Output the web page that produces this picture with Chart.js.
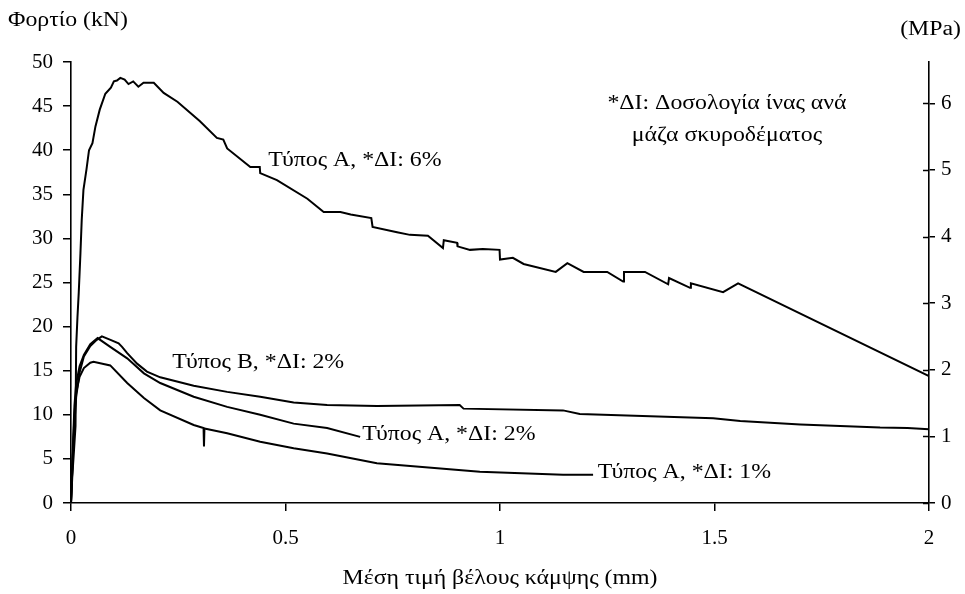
<!DOCTYPE html>
<html>
<head>
<meta charset="utf-8">
<script src="https://cdn.jsdelivr.net/npm/chart.js@4"></script>
<style>
  body { margin: 0; background: #fff; }
  #chart { display: block; }
</style>
</head>
<body>
<canvas id="chart" width="965" height="594"></canvas>
<script>
// curve data: deflection (mm) / load (kN)
var typeA6X = [0, 0.003, 0.007, 0.0105, 0.012, 0.015, 0.018, 0.022, 0.025, 0.029, 0.036, 0.042, 0.05, 0.057, 0.067, 0.08, 0.093, 0.1, 0.107, 0.115, 0.125, 0.134, 0.145, 0.157, 0.169, 0.193, 0.216, 0.248, 0.30, 0.34, 0.355, 0.364, 0.418, 0.44, 0.441, 0.48, 0.551, 0.589, 0.628, 0.652, 0.70, 0.703, 0.76, 0.79, 0.832, 0.867, 0.869, 0.90, 0.901, 0.93, 0.96, 0.999, 1.0, 1.03, 1.055, 1.13, 1.157, 1.195, 1.25, 1.287, 1.289, 1.338, 1.392, 1.394, 1.443, 1.445, 1.52, 1.555, 2.0];
var typeA6Y = [0, 3, 6, 8.7, 17.7, 21, 23.8, 28.3, 32.1, 35.5, 37.8, 40, 40.8, 42.7, 44.6, 46.4, 47.1, 47.8, 47.9, 48.2, 48.0, 47.5, 47.8, 47.2, 47.65, 47.65, 46.5, 45.5, 43.3, 41.4, 41.2, 40.2, 38.1, 38.1, 37.4, 36.6, 34.5, 33.0, 33.0, 32.7, 32.3, 31.3, 30.7, 30.4, 30.3, 28.9, 29.8, 29.5, 29.1, 28.7, 28.8, 28.7, 27.6, 27.8, 27.1, 26.2, 27.2, 26.2, 26.2, 25.1, 26.2, 26.2, 24.8, 25.5, 24.4, 24.9, 23.9, 24.9, 14.4];

var typeB2X = [0, 0.004, 0.008, 0.012, 0.02, 0.03, 0.045, 0.06, 0.072, 0.092, 0.111, 0.119, 0.131, 0.154, 0.177, 0.208, 0.286, 0.364, 0.441, 0.519, 0.597, 0.713, 0.906, 0.915, 1.147, 1.186, 1.497, 1.56, 1.7, 1.886, 1.95, 2.0];
var typeB2Y = [0, 5, 9, 12, 14.8, 16.6, 17.8, 18.5, 18.9, 18.5, 18.1, 17.7, 17.0, 15.8, 14.9, 14.25, 13.3, 12.6, 12.05, 11.4, 11.1, 11.0, 11.1, 10.7, 10.5, 10.1, 9.6, 9.3, 8.9, 8.55, 8.5, 8.35];

var typeA2X = [0, 0.004, 0.008, 0.012, 0.02, 0.03, 0.045, 0.062, 0.0915, 0.131, 0.17, 0.208, 0.286, 0.364, 0.441, 0.519, 0.597, 0.674];
var typeA2Y = [0, 6, 11, 13.5, 15.5, 16.8, 18.0, 18.7, 17.7, 16.4, 14.7, 13.6, 12.05, 10.9, 10.0, 9.0, 8.5, 7.5];

var typeA1X = [0, 0.004, 0.008, 0.012, 0.02, 0.03, 0.045, 0.0524, 0.0915, 0.131, 0.17, 0.208, 0.286, 0.309, 0.31, 0.311, 0.364, 0.441, 0.519, 0.597, 0.713, 0.953, 1.147, 1.217];
var typeA1Y = [0, 5, 10, 12.5, 14.3, 15.3, 15.9, 16.0, 15.6, 13.6, 11.9, 10.5, 8.85, 8.5, 6.4, 8.45, 7.9, 6.95, 6.2, 5.6, 4.5, 3.55, 3.2, 3.2];

var xTicks = [0, 0.5, 1, 1.5, 2];
var loadTicks = [0, 5, 10, 15, 20, 25, 30, 35, 40, 45, 50];
var stressTicks = [0, 1, 2, 3, 4, 5, 6];
var stressMax = 6.62; // right axis top, matches 50 kN

// curve labels anchored in data units
var curveLabels = [
  { text: 'Τύπος Α, *ΔΙ: 6%', x: 0.46, y: 38.8 },
  { text: 'Τύπος Β, *ΔΙ: 2%', x: 0.236, y: 15.9 },
  { text: 'Τύπος Α, *ΔΙ: 2%', x: 0.679, y: 7.7 },
  { text: 'Τύπος Α, *ΔΙ: 1%', x: 1.228, y: 3.4 }
];
var noteLines = ['*ΔΙ: Δοσολογία ίνας ανά', 'μάζα σκυροδέματος'];

var SERIF = '"Liberation Serif", "Times New Roman", serif';
var TEXT_FONT = '20px ' + SERIF;
var STRETCH = 1.19; // the original lettering is wide

function toPoints(xs, ys) {
  return xs.map(function(x, i) { return { x: x, y: ys[i] }; });
}

function curve(xs, ys) {
  return {
    data: toPoints(xs, ys),
    showLine: true,
    borderColor: '#000',
    borderWidth: 2,
    pointRadius: 0,
    tension: 0,
    fill: false
  };
}

// wide text: align is 'left', 'center' or 'right'
function wideText(ctx, text, x, y, align) {
  var w = ctx.measureText(text).width * STRETCH;
  var left = x;
  if (align === 'center') left = x - w / 2;
  if (align === 'right') left = x - w;
  ctx.save();
  ctx.translate(left, y);
  ctx.scale(STRETCH, 1);
  ctx.textAlign = 'left';
  ctx.fillText(text, 0, 0);
  ctx.restore();
}

var textPlugin = {
  id: 'chartTexts',
  afterDraw: function(chart) {
    var ctx = chart.ctx;
    var xs = chart.scales.x, ys = chart.scales.y, rs = chart.scales.y2;
    ctx.save();

    // right axis ticks cross the axis line
    ctx.strokeStyle = '#000';
    ctx.lineWidth = 1.5;
    stressTicks.forEach(function(v) {
      var py = Math.round(rs.getPixelForValue(v)) + 0.5;
      ctx.beginPath();
      ctx.moveTo(rs.left - 6, py);
      ctx.lineTo(rs.left, py);
      ctx.stroke();
    });

    ctx.fillStyle = '#000';
    ctx.font = TEXT_FONT;
    ctx.textBaseline = 'middle';

    curveLabels.forEach(function(l) {
      wideText(ctx, l.text, xs.getPixelForValue(l.x), ys.getPixelForValue(l.y), 'left');
    });

    wideText(ctx, noteLines[0], xs.getPixelForValue(1.529), ys.getPixelForValue(45.25), 'center');
    wideText(ctx, noteLines[1], xs.getPixelForValue(1.529), ys.getPixelForValue(41.65), 'center');

    // axis titles
    wideText(ctx, 'Φορτίο (kN)', 8, 21, 'left');
    wideText(ctx, '(MPa)', 961, 30, 'right');
    wideText(ctx, 'Μέση τιμή βέλους κάμψης (mm)', (chart.chartArea.left + chart.chartArea.right) / 2, 579, 'center');
    ctx.restore();
  }
};

var tickFont = { family: SERIF, size: 21 };
var axisGrid = { drawOnChartArea: false, drawTicks: true, tickLength: 8, color: '#000', lineWidth: 1.5 };
var axisBorder = { display: true, color: '#000', width: 1.6 };

var ctx = document.getElementById('chart').getContext('2d');
var chart = new Chart(ctx, {
  type: 'scatter',
  data: {
    datasets: [
      curve(typeA6X, typeA6Y),
      curve(typeB2X, typeB2Y),
      curve(typeA2X, typeA2Y),
      curve(typeA1X, typeA1Y)
    ]
  },
  options: {
    responsive: false,
    animation: false,
    layout: { padding: { top: 62, left: 0, right: 0, bottom: 0 } },
    plugins: {
      legend: { display: false },
      tooltip: { enabled: false }
    },
    scales: {
      x: {
        type: 'linear',
        position: 'bottom',
        min: 0, max: 2,
        afterBuildTicks: function(axis) { axis.ticks = xTicks.map(function(v) { return { value: v }; }); },
        afterFit: function(axis) { axis.height = 91; },
        ticks: {
          color: '#000', font: tickFont, padding: 15,
          maxRotation: 0,
          callback: function(v) { return String(v); }
        },
        grid: axisGrid,
        border: axisBorder
      },
      y: {
        type: 'linear',
        position: 'left',
        min: 0, max: 50,
        afterBuildTicks: function(axis) { axis.ticks = loadTicks.map(function(v) { return { value: v }; }); },
        afterFit: function(axis) { axis.width = 71; },
        ticks: { color: '#000', font: tickFont, padding: 10 },
        grid: axisGrid,
        border: axisBorder
      },
      y2: {
        type: 'linear',
        position: 'right',
        min: 0, max: stressMax,
        afterBuildTicks: function(axis) { axis.ticks = stressTicks.map(function(v) { return { value: v }; }); },
        afterFit: function(axis) { axis.width = 36; },
        ticks: { color: '#000', font: tickFont, padding: 6 },
        grid: { drawOnChartArea: false, drawTicks: true, tickLength: 6, color: '#000', lineWidth: 1.5 },
        border: axisBorder
      }
    }
  },
  plugins: [textPlugin]
});
</script>
</body>
</html>
